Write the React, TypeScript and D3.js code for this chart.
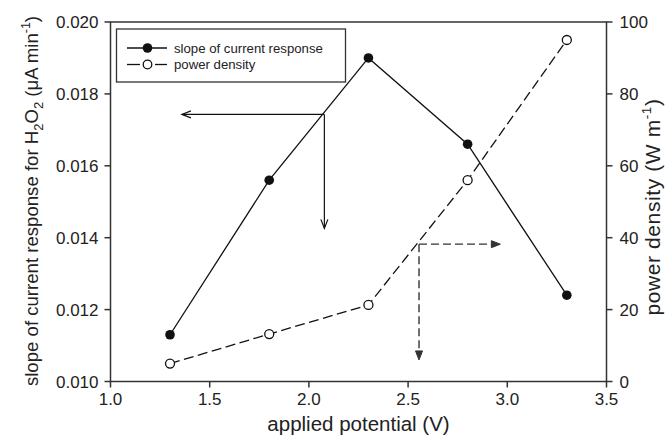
import React from 'react';
import * as d3 from 'd3';

// data
const potentials = [1.3, 1.8, 2.3, 2.8, 3.3];
const slopeValues = [0.0113, 0.0156, 0.0190, 0.0166, 0.0124];
const powerValues = [5, 13.2, 21.3, 56, 95];

const xTicks = [1.0, 1.5, 2.0, 2.5, 3.0, 3.5];
const leftTicks = [0.010, 0.012, 0.014, 0.016, 0.018, 0.020];
const rightTicks = [0, 20, 40, 60, 80, 100];

// annotation arrows: corner point and the two tips, in data units
const slopeArrow = { x: 2.078, y: 0.01743, tipX: 1.36, tipY: 0.01426 };
const powerArrow = { x: 2.555, y: 38.2, tipX: 2.965, tipY: 6.0 };

const config = {
    width: 672,
    height: 440,
    left: 110.5,
    right: 606.5,
    top: 22,
    bottom: 381.5,
    font: '"Liberation Sans", Arial, sans-serif',
    ink: '#111',
    axisInk: '#333',
    tickFont: 17,
    titleFont: 20.5
};

function Arrowhead({ x, y, dir, filled }: { x: number; y: number; dir: string; filled?: boolean }) {
    // chevron pointing in dir
    const len = 9, half = 3.5;
    let pts: [number, number][];
    if (dir === 'left') pts = [[x + len, y - half], [x, y], [x + len, y + half]];
    else if (dir === 'right') pts = [[x - len, y - half], [x, y], [x - len, y + half]];
    else pts = [[x - half, y - len], [x, y], [x + half, y - len]];
    const d = 'M' + pts.map(p => p.join(',')).join('L');
    return filled
        ? <path d={d + 'Z'} fill={config.axisInk} stroke={config.axisInk} strokeWidth={1} />
        : <path d={d} fill="none" stroke={config.ink} strokeWidth={1.2} />;
}

export default function App() {
    const { width, height, left, right, top, bottom, font, ink, axisInk, tickFont, titleFont } = config;
    const x = d3.scaleLinear().domain([1.0, 3.5]).range([left, right]);
    const yL = d3.scaleLinear().domain([0.010, 0.020]).range([bottom, top]);
    const yR = d3.scaleLinear().domain([0, 100]).range([bottom, top]);

    const slopeLine = d3.line<number>().x((d, i) => x(potentials[i])).y(d => yL(d));
    const powerLine = d3.line<number>().x((d, i) => x(potentials[i])).y(d => yR(d));

    const sa = { cx: x(slopeArrow.x), cy: yL(slopeArrow.y), hx: x(slopeArrow.tipX), vy: yL(slopeArrow.tipY) };
    const pa = { cx: x(powerArrow.x), cy: yR(powerArrow.y), hx: x(powerArrow.tipX), vy: yR(powerArrow.tipY) };

    return (
        <svg width={width} height={height} style={{ position: 'absolute', left: 0, top: 0, background: '#fff' }}
             fontFamily={font}>
            {/* frame */}
            <rect x={left} y={top} width={right - left} height={bottom - top} fill="none" stroke={axisInk} strokeWidth={1.5} />

            {/* bottom axis */}
            {xTicks.map(t => (
                <g key={'x' + t}>
                    <line x1={x(t)} x2={x(t)} y1={bottom} y2={bottom + 6} stroke={axisInk} strokeWidth={1.5} />
                    <text x={x(t)} y={bottom + 23.5} textAnchor="middle" fontSize={tickFont} fill="#222">{t.toFixed(1)}</text>
                </g>
            ))}
            <text x={(left + right) / 2} y={431} textAnchor="middle" fontSize={titleFont} fill="#222">applied potential (V)</text>

            {/* left axis */}
            {leftTicks.map(t => (
                <g key={'l' + t}>
                    <line x1={left - 6} x2={left} y1={yL(t)} y2={yL(t)} stroke={axisInk} strokeWidth={1.5} />
                    <text x={left - 12} y={yL(t) + 6} textAnchor="end" fontSize={tickFont} fill="#222">{t.toFixed(3)}</text>
                </g>
            ))}
            <text transform={`translate(38,201) rotate(-90)`} textAnchor="middle" fontSize={18.6} fill="#222">
                slope of current response for H<tspan fontSize={13} dy={5}>2</tspan><tspan dy={-5}>O</tspan><tspan fontSize={13} dy={5}>2</tspan><tspan dy={-5}> (μA min</tspan><tspan fontSize={12.5} dy={-8}>-1</tspan><tspan dy={8}>)</tspan>
            </text>

            {/* right axis */}
            {rightTicks.map(t => (
                <g key={'r' + t}>
                    <line x1={right} x2={right + 6} y1={yR(t)} y2={yR(t)} stroke={axisInk} strokeWidth={1.5} />
                    <text x={right + 13} y={yR(t) + 6} textAnchor="start" fontSize={tickFont} fill="#222">{t}</text>
                </g>
            ))}
            <text transform={`translate(660,207) rotate(-90)`} textAnchor="middle" fontSize={21} letterSpacing={0.6} fill="#222">
                power density (W m<tspan fontSize={13.5} dy={-9}>-1</tspan><tspan dy={9}>)</tspan>
            </text>

            {/* series */}
            <path d={slopeLine(slopeValues) || ''} fill="none" stroke={ink} strokeWidth={1.3} />
            <path d={powerLine(powerValues) || ''} fill="none" stroke={ink} strokeWidth={1.3} strokeDasharray="10,4.5" />
            {slopeValues.map((v, i) => (
                <circle key={'s' + i} cx={x(potentials[i])} cy={yL(v)} r={4.8} fill={ink} />
            ))}
            {powerValues.map((v, i) => (
                <circle key={'p' + i} cx={x(potentials[i])} cy={yR(v)} r={4.5} fill="#fff" stroke={ink} strokeWidth={1.3} />
            ))}

            {/* annotation arrows */}
            <line x1={sa.cx} y1={sa.cy} x2={sa.hx} y2={sa.cy} stroke={ink} strokeWidth={1.2} />
            <Arrowhead x={sa.hx} y={sa.cy} dir="left" />
            <line x1={sa.cx} y1={sa.cy} x2={sa.cx} y2={sa.vy} stroke={ink} strokeWidth={1.2} />
            <Arrowhead x={sa.cx} y={sa.vy} dir="down" />

            <line x1={pa.cx} y1={pa.cy} x2={pa.hx - 4} y2={pa.cy} stroke={axisInk} strokeWidth={1.4} strokeDasharray="8,4" />
            <Arrowhead x={pa.hx} y={pa.cy} dir="right" filled />
            <line x1={pa.cx} y1={pa.cy} x2={pa.cx} y2={pa.vy - 4} stroke={axisInk} strokeWidth={1.4} strokeDasharray="8,4" />
            <Arrowhead x={pa.cx} y={pa.vy} dir="down" filled />

            {/* legend */}
            <rect x={116.5} y={29} width={229} height={53} fill="#fff" stroke={axisInk} strokeWidth={1.3} />
            <line x1={127} x2={167} y1={48} y2={48} stroke={ink} strokeWidth={1.3} />
            <circle cx={147.5} cy={48} r={4.8} fill={ink} />
            <text x={174} y={52.5} fontSize={13.2} fill="#222">slope of current response</text>
            <line x1={127} x2={140} y1={64.5} y2={64.5} stroke={ink} strokeWidth={1.3} />
            <line x1={155} x2={167} y1={64.5} y2={64.5} stroke={ink} strokeWidth={1.3} />
            <circle cx={147.5} cy={64.5} r={4.3} fill="#fff" stroke={ink} strokeWidth={1.3} />
            <text x={174} y={69} fontSize={13.2} fill="#222">power density</text>
        </svg>
    );
}
